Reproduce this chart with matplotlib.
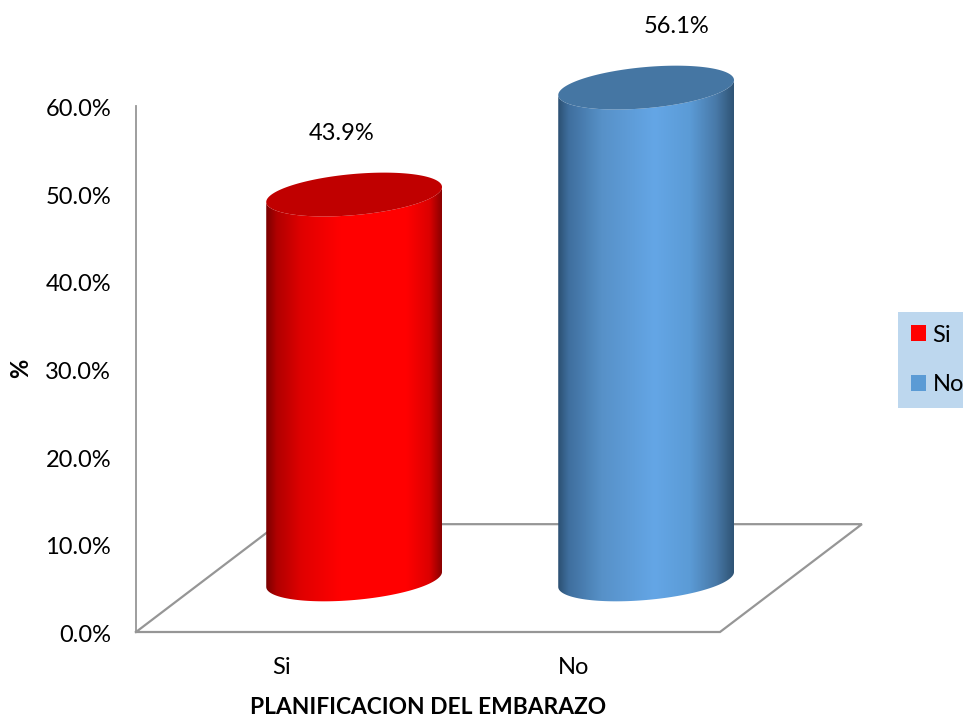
"""Planificacion del embarazo: faux-3D cylinder columns on a floor plane."""

import matplotlib

matplotlib.use("Agg")
import matplotlib.pyplot as plt  # noqa: E402
import numpy as np  # noqa: E402
from matplotlib.colors import LinearSegmentedColormap  # noqa: E402
from matplotlib.patches import Patch, PathPatch, Polygon  # noqa: E402
from matplotlib.path import Path  # noqa: E402
from matplotlib.transforms import ScaledTranslation  # noqa: E402

categories = ["Si", "No"]
values = [43.9, 56.1]
value_labels = ["43.9%", "56.1%"]
y_ticks = [0, 10, 20, 30, 40, 50, 60]
y_tick_labels = ["0.0%", "10.0%", "20.0%", "30.0%", "40.0%", "50.0%", "60.0%"]

side_stops = [
    [(0.0, "#7a0000"), (0.06, "#b00000"), (0.2, "#e00000"), (0.42, "#ff0000"),
     (0.8, "#ff0000"), (0.93, "#dc0000"), (1.0, "#8b0000")],
    [(0.0, "#2c5073"), (0.06, "#3f6f9e"), (0.25, "#5791c8"), (0.55, "#64a6e6"),
     (0.75, "#5b9bd6"), (0.9, "#4879a8"), (1.0, "#2f5475")],
]
top_colors = ["#c00000", "#4576a3"]
legend_colors = ["#ff0000", "#5b9bd5"]

GRAY = "#969696"
INK = "#000000"
WIDTH_PX, HEIGHT_PX = 963, 717
LEFT, RIGHT, TOP, BOTTOM = 136, 720, 106, 632

# floor depth and cylinder placement, in axis units
FLOOR_DX, FLOOR_DY = 0.486, 12.3
DEPTH_DX, DEPTH_DY = 0.247, 6.0
HALF_W = 0.301
TILT, RISE = 0.855, 2.35

plt.rcParams["font.family"] = ["Lato", "DejaVu Sans"]

fig = plt.figure(figsize=(WIDTH_PX / 100, HEIGHT_PX / 100), dpi=100)
ax = fig.add_axes([
    LEFT / WIDTH_PX,
    1 - BOTTOM / HEIGHT_PX,
    (RIGHT - LEFT) / WIDTH_PX,
    (BOTTOM - TOP) / HEIGHT_PX,
])

# floor plane
ax.plot(
    [-0.5, 1.5, 1.5 + FLOOR_DX, -0.5 + FLOOR_DX, -0.5],
    [0, 0, FLOOR_DY, FLOOR_DY, 0],
    color=GRAY, lw=1.6, clip_on=False, zorder=1, solid_joinstyle="miter",
)

gradient = np.linspace(0, 1, 256).reshape(1, -1)
t = np.linspace(0, 2 * np.pi, 181)


def rim(cx, cy, angles):
    return np.column_stack([
        cx + HALF_W * np.cos(angles),
        cy + TILT * np.cos(angles) + RISE * np.sin(angles),
    ])


for i, value in enumerate(values):
    cx = i + DEPTH_DX
    base = DEPTH_DY
    top = DEPTH_DY + value

    # front half of each rim, walked from the right edge round to the left
    front = np.linspace(0, -np.pi, 91)
    body = np.vstack([rim(cx, base, front), rim(cx, top, front)[::-1]])
    clip = Polygon(body, closed=True, transform=ax.transData, fc="none", ec="none",
                   clip_on=False)
    ax.add_patch(clip)
    cmap = LinearSegmentedColormap.from_list(f"side{i}", side_stops[i])
    im = ax.imshow(
        gradient, cmap=cmap, aspect="auto", zorder=3, interpolation="bilinear",
        extent=[cx - HALF_W, cx + HALF_W, base - RISE - 1, top + RISE + 1],
    )
    im.set_clip_box(fig.bbox)
    im.set_clip_path(clip)

    ax.add_patch(PathPatch(
        Path(rim(cx, top, t), closed=True), fc=top_colors[i], ec="none",
        zorder=4, clip_on=False,
    ))

ax.set_xlim(-0.5, 1.5)
ax.set_ylim(0, 60)
ax.set_xticks(range(len(categories)), categories)
ax.set_yticks(y_ticks, y_tick_labels)
ax.tick_params(length=0, labelsize=17, colors=INK)
ax.tick_params(axis="x", pad=18)
ax.tick_params(axis="y", pad=18)
# Office text sits a little lower than matplotlib centres it
nudge = ScaledTranslation(0, -1.5 / 72 / 1.39, fig.dpi_scale_trans)
for lab in ax.get_yticklabels():
    lab.set_transform(lab.get_transform() + nudge)
for side in ("top", "right", "bottom"):
    ax.spines[side].set_visible(False)
ax.spines["left"].set_color(GRAY)
ax.spines["left"].set_linewidth(1.3)
ax.patch.set_visible(False)

# value labels sit above the cylinder tops
label_dx = [-12, 30]
for i, value in enumerate(values):
    ax.annotate(
        value_labels[i],
        xy=(i + DEPTH_DX, value + DEPTH_DY),
        xytext=(label_dx[i] * 0.72, 61 * 0.72),
        textcoords="offset points",
        ha="center", va="center", fontsize=17, color=INK,
        annotation_clip=False,
    )

fig.text(428 / WIDTH_PX, 1 - 707.5 / HEIGHT_PX, "PLANIFICACION DEL EMBARAZO",
         ha="center", va="center", fontsize=16.4, fontweight="bold", color=INK)
fig.text(21 / WIDTH_PX, 1 - 368 / HEIGHT_PX, "%", rotation=90,
         ha="center", va="center", fontsize=17, fontweight="bold", color=INK)

handles = [Patch(facecolor=c, edgecolor="none") for c in legend_colors]
fig.legend(
    handles, categories,
    loc="center left", bbox_to_anchor=(898 / WIDTH_PX, 1 - 360 / HEIGHT_PX),
    borderaxespad=0, frameon=True, fancybox=False, framealpha=1,
    facecolor="#bdd7ee", edgecolor="none", fontsize=17,
    handlelength=0.64, handleheight=0.64, handletextpad=0.3,
    labelspacing=1.22, borderpad=0.53,
)

fig.savefig("out.png", dpi=100)
